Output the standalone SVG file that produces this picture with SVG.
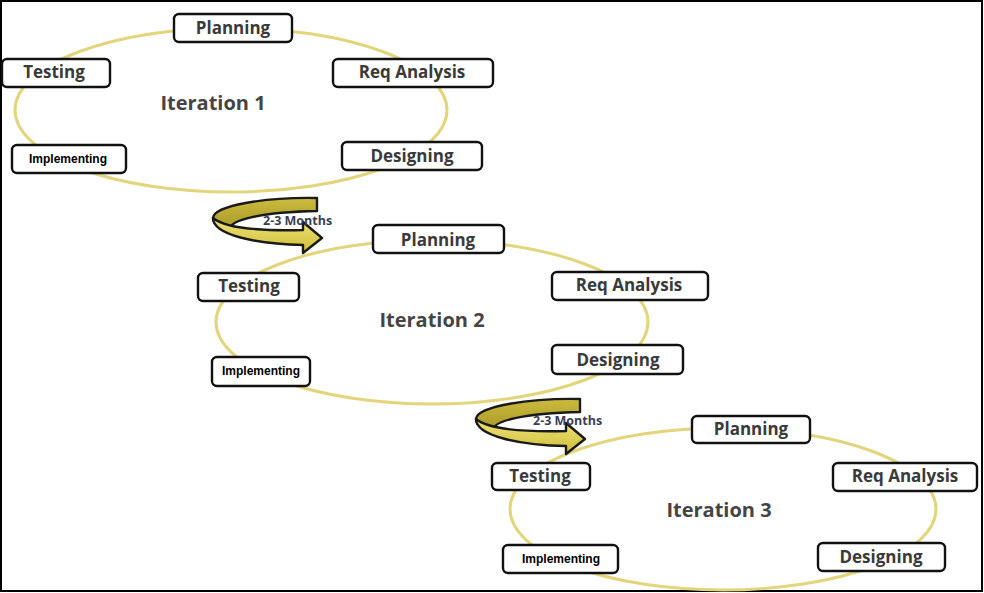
<svg xmlns="http://www.w3.org/2000/svg" width="984" height="593" viewBox="0 0 984 593">
<defs>
<style>
.ell{fill:none;stroke:#e2d57c;stroke-width:3}
.box{fill:#ffffff;stroke:#111111;stroke-width:2.4}
.lbl{font-family:"Open Sans","DejaVu Sans",sans-serif;font-weight:bold;font-size:17px;fill:#3a3a3a;text-anchor:middle}
.imp{font-family:"Liberation Sans",Arial,sans-serif;font-weight:bold;font-size:12px;fill:#000000;text-anchor:middle}
.it{font-family:"Open Sans","DejaVu Sans",sans-serif;font-weight:bold;font-size:20px;fill:#454545;text-anchor:middle}
.mo{font-family:"Open Sans","DejaVu Sans",sans-serif;font-weight:bold;font-size:12.5px;fill:#3a3f55}
.arrB{fill:url(#gB);stroke:#1a1a1a;stroke-width:2.4;stroke-linejoin:round}
.arrF{fill:url(#gF);stroke:#1a1a1a;stroke-width:2.4;stroke-linejoin:round}
</style>
<linearGradient id="gB" x1="0" y1="0" x2="0" y2="1">
<stop offset="0" stop-color="#cbbb3c"/>
<stop offset="1" stop-color="#a8982a"/>
</linearGradient>
<linearGradient id="gF" x1="0" y1="0" x2="0" y2="1">
<stop offset="0" stop-color="#efe37c"/>
<stop offset="1" stop-color="#cdbd35"/>
</linearGradient>
<g id="curl">
<path class="arrB" d="M317,198 C268,197 214,205 213,218 C213,224 219,228 230,230 C228,220 262,212 317,211 Z"/>
<path class="arrF" d="M213,218 C213,235 256,244 303,245 L303,253 L322,238 L303,222 L303,230 C262,231 226,229 213,218 Z"/>
</g>
</defs>
<rect x="0" y="0" width="984" height="593" fill="#ffffff"/>
<rect x="1" y="1" width="981" height="590" fill="none" stroke="#000000" stroke-width="2"/>

<g id="ellipses">
<ellipse class="ell" cx="231" cy="110" rx="216" ry="82"/>
<ellipse class="ell" cx="432" cy="322" rx="216" ry="82"/>
<ellipse class="ell" cx="723" cy="509" rx="213" ry="81"/>
</g>

<g id="connectors">
<g id="arrow1">
<use href="#curl"/>
<text class="mo" x="263" y="225">2-3 Months</text>
</g>
<g id="arrow2" transform="translate(263,201)">
<use href="#curl"/>
<text class="mo" x="270" y="224">2-3 Months</text>
</g>
</g>

<g id="iter1">
<text class="it" x="213" y="110">Iteration 1</text>
<g id="planning1"><rect class="box" x="174" y="14" width="118" height="28" rx="5"/><text class="lbl" x="233" y="34">Planning</text></g>
<g id="testing1"><rect class="box" x="2" y="59" width="108" height="28" rx="5"/><text class="lbl" x="54" y="78">Testing</text></g>
<g id="req1"><rect class="box" x="333" y="59" width="160" height="28" rx="5"/><text class="lbl" x="412" y="78">Req Analysis</text></g>
<g id="impl1"><rect class="box" x="12" y="145" width="114" height="28" rx="5"/><text class="imp" x="68" y="163">Implementing</text></g>
<g id="design1"><rect class="box" x="342" y="142" width="140" height="28" rx="5"/><text class="lbl" x="412" y="162">Designing</text></g>
</g>

<g id="iter2">
<text class="it" x="432" y="327">Iteration 2</text>
<g id="planning2"><rect class="box" x="373" y="225" width="131" height="28" rx="5"/><text class="lbl" x="438" y="246">Planning</text></g>
<g id="testing2"><rect class="box" x="198" y="273" width="101" height="28" rx="5"/><text class="lbl" x="249" y="292">Testing</text></g>
<g id="req2"><rect class="box" x="552" y="272" width="156" height="28" rx="5"/><text class="lbl" x="629" y="291">Req Analysis</text></g>
<g id="impl2"><rect class="box" x="212" y="357" width="98" height="29" rx="5"/><text class="imp" x="261" y="375">Implementing</text></g>
<g id="design2"><rect class="box" x="552" y="345" width="131" height="29" rx="5"/><text class="lbl" x="618" y="366">Designing</text></g>
</g>

<g id="iter3">
<text class="it" x="719" y="517">Iteration 3</text>
<g id="planning3"><rect class="box" x="692" y="416" width="118" height="27" rx="5"/><text class="lbl" x="751" y="435">Planning</text></g>
<g id="testing3"><rect class="box" x="492" y="463" width="98" height="27" rx="5"/><text class="lbl" x="540" y="482">Testing</text></g>
<g id="req3"><rect class="box" x="833" y="463" width="144" height="28" rx="5"/><text class="lbl" x="905" y="482">Req Analysis</text></g>
<g id="impl3"><rect class="box" x="503" y="545" width="115" height="28" rx="5"/><text class="imp" x="561" y="563">Implementing</text></g>
<g id="design3"><rect class="box" x="818" y="543" width="127" height="28" rx="5"/><text class="lbl" x="881" y="563">Designing</text></g>
</g>
</svg>
